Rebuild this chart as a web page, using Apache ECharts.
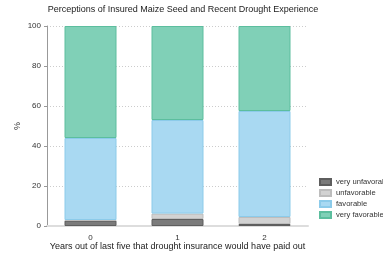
<!DOCTYPE html>
<html>
<head>
<meta charset="utf-8">
<script src="https://cdn.jsdelivr.net/npm/echarts@6/dist/echarts.min.js"></script>
<style>
    html, body { margin: 0; padding: 0; background: #fff; }
    #chart { width: 383px; height: 253px; }
</style>
</head>
<body>
<div id="chart"></div>
<script>
// data (percent of respondents)
var years = ["0", "1", "2"];
var veryUnfavorable = [2.7, 3.5, 1.0];
var unfavorable = [0.3, 2.7, 3.5];
var favorable = [41.0, 46.8, 53.0];
var veryFavorable = [56.0, 47.0, 42.5];
var yTicks = [0, 20, 40, 60, 80, 100];

var FONT = "Liberation Sans, Arial, sans-serif";

function makeSeries(name, data, color, border) {
    return {
        name: name,
        type: 'bar',
        stack: 'total',
        barWidth: 52,
        data: data,
        itemStyle: {
            color: color,
            borderColor: border,
            borderWidth: 1
        }
    };
}

var chart = echarts.init(document.getElementById("chart"));
var option = {
    animation: false,
    textStyle: { fontFamily: FONT },
    title: {
        text: 'Perceptions of Insured Maize Seed and Recent Drought Experience',
        left: 178,
        textAlign: 'center',
        top: 0,
        textStyle: { fontSize: 9, fontWeight: 'normal', color: '#222', fontFamily: FONT }
    },
    legend: {
        orient: 'vertical',
        left: 314,
        top: 173,
        itemWidth: 11,
        itemHeight: 6,
        itemGap: 3,
        icon: 'rect',
        textStyle: { fontSize: 7.6, color: '#333', fontFamily: FONT },
        data: ['very unfavorable', 'unfavorable', 'favorable', 'very favorable']
    },
    grid: { left: 47, right: 75, top: 26, bottom: 27, outerBoundsMode: 'none' },
    xAxis: {
        type: 'category',
        data: years,
        name: 'Years out of last five that drought insurance would have paid out',
        nameLocation: 'middle',
        nameGap: 16,
        nameMoveOverlap: false,
        nameTextStyle: { fontSize: 9, color: '#222', fontFamily: FONT, verticalAlign: 'top' },
        axisLine: { show: true, lineStyle: { color: '#ddd', width: 2 } },
        axisTick: { show: false },
        axisLabel: { fontSize: 8, color: '#333', margin: 8 }
    },
    yAxis: {
        type: 'value',
        min: yTicks[0],
        max: yTicks[yTicks.length - 1],
        interval: 20,
        name: '%',
        nameLocation: 'middle',
        nameGap: 29,
        nameMoveOverlap: false,
        nameRotate: 90,
        nameTextStyle: { fontSize: 9, color: '#333', fontFamily: FONT, verticalAlign: 'middle' },
        axisLine: { show: true, lineStyle: { color: '#999' } },
        axisTick: { show: true, length: 3, lineStyle: { color: '#999' } },
        axisLabel: { fontSize: 8, color: '#333', margin: 6 },
        splitLine: { show: true, lineStyle: { color: '#ccc', type: [1, 2] } }
    },
    series: [
        makeSeries('very unfavorable', veryUnfavorable, '#7b7b7b', '#5e5e5e'),
        makeSeries('unfavorable', unfavorable, '#d2d2d2', '#bdbdbd'),
        makeSeries('favorable', favorable, '#a9d9f2', '#8ccbea'),
        makeSeries('very favorable', veryFavorable, '#80d0b7', '#5cbe9e')
    ]
};
chart.setOption(option);
</script>
</body>
</html>
